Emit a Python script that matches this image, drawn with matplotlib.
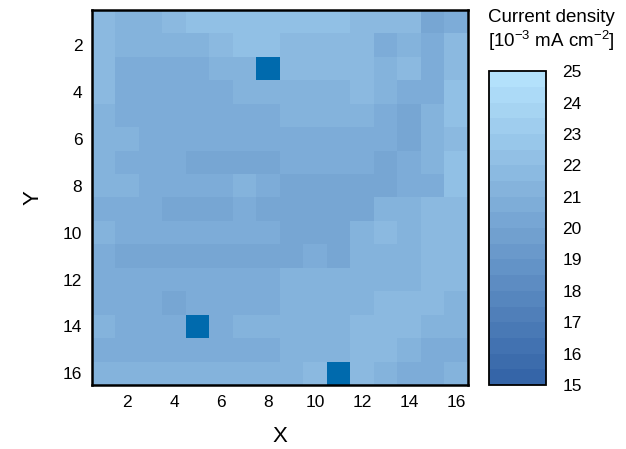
import numpy as np
import matplotlib
matplotlib.use("Agg")
import matplotlib.pyplot as plt
from matplotlib.colors import ListedColormap, BoundaryNorm, to_rgb

plt.rcParams['font.family'] = ['Liberation Sans', 'DejaVu Sans']
plt.rcParams['mathtext.default'] = 'regular'

# Current density map, rows Y = 1..16 (top to bottom), columns X = 1..16
current_density = [
    [21.7, 21.2, 21.2, 21.7, 22.2, 22.2, 22.2, 22.2, 22.2, 22.2, 22.2, 21.7, 21.7, 21.7, 20.2, 20.7],
    [21.7, 21.2, 21.2, 21.2, 21.2, 21.7, 22.2, 22.2, 21.7, 21.7, 21.7, 21.7, 20.7, 21.2, 20.7, 21.7],
    [21.7, 20.7, 20.7, 20.7, 20.7, 21.2, 21.2, 3.0, 21.7, 21.7, 21.7, 21.7, 21.2, 21.7, 20.7, 21.7],
    [21.7, 20.7, 20.7, 20.7, 20.7, 20.7, 21.2, 21.2, 21.2, 21.2, 21.2, 21.7, 21.2, 20.7, 20.7, 22.2],
    [21.2, 20.7, 20.7, 20.7, 20.7, 20.7, 20.7, 20.7, 21.2, 21.2, 21.2, 21.2, 20.7, 20.2, 21.2, 22.2],
    [21.2, 21.2, 20.7, 20.7, 20.7, 20.7, 20.7, 20.7, 20.7, 20.7, 20.7, 20.7, 20.7, 20.2, 21.2, 21.7],
    [21.2, 20.7, 20.7, 20.7, 20.2, 20.2, 20.2, 20.2, 20.7, 20.7, 20.7, 20.7, 20.2, 20.7, 21.2, 22.2],
    [21.2, 21.2, 20.7, 20.7, 20.7, 20.7, 21.2, 20.7, 20.2, 20.2, 20.2, 20.2, 20.2, 20.7, 20.7, 22.2],
    [20.7, 20.7, 20.7, 20.2, 20.2, 20.2, 20.7, 20.2, 20.2, 20.2, 20.2, 20.2, 21.2, 21.2, 21.7, 21.7],
    [21.2, 20.7, 20.7, 20.7, 20.7, 20.7, 20.7, 20.7, 20.2, 20.2, 20.2, 21.2, 21.7, 21.2, 21.7, 21.7],
    [20.7, 20.2, 20.2, 20.2, 20.2, 20.2, 20.2, 20.2, 20.2, 20.7, 20.2, 21.2, 21.2, 21.2, 21.7, 21.7],
    [20.7, 20.7, 20.7, 20.7, 20.7, 20.7, 20.7, 20.7, 21.2, 21.2, 21.2, 21.2, 21.2, 21.2, 21.7, 21.7],
    [20.7, 20.7, 20.7, 20.2, 20.7, 20.7, 20.7, 20.7, 21.2, 21.2, 21.2, 21.2, 21.7, 21.7, 21.7, 21.2],
    [21.2, 20.7, 20.7, 20.7, 3.0, 20.7, 21.2, 21.2, 21.2, 21.2, 21.2, 21.7, 21.7, 21.7, 21.2, 21.2],
    [20.7, 20.7, 20.7, 20.7, 20.7, 20.7, 20.7, 20.7, 21.2, 21.2, 21.2, 21.7, 21.7, 21.2, 20.7, 20.7],
    [21.2, 21.2, 21.2, 21.2, 21.2, 21.2, 21.2, 21.2, 21.2, 21.7, 3.0, 21.7, 21.2, 20.7, 20.7, 21.2],
]
tick_positions = [2, 4, 6, 8, 10, 12, 14, 16]
cbar_ticks = [15, 16, 17, 18, 19, 20, 21, 22, 23, 24, 25]
cbar_min, cbar_max, cbar_step = 15, 25, 0.5

# Stepped blue palette, one shade per 0.5 interval
low, high = np.array(to_rgb('#3565a8')), np.array(to_rgb('#b3e1fb'))
bounds = np.arange(cbar_min, cbar_max + cbar_step / 2, cbar_step)
n_bins = len(bounds) - 1
shades = [low + (high - low) * i / (n_bins - 1) for i in range(n_bins)]
cmap = ListedColormap(shades)
cmap.set_under('#006aad')
cmap.set_over('#b3e1fb')
norm = BoundaryNorm(bounds, cmap.N)

data = np.array(current_density)
n_rows, n_cols = data.shape

fig = plt.figure(figsize=(6.26, 4.49), dpi=100)
ax = fig.add_axes([0.147, 0.1425, 0.6006, 0.835])
ax.imshow(data, cmap=cmap, norm=norm, interpolation='nearest', aspect='auto',
          extent=[0.5, n_cols + 0.5, n_rows + 0.5, 0.5])
ax.set_xticks(tick_positions)
ax.set_yticks(tick_positions)
ax.tick_params(length=0, labelsize=12.5, pad=7)
ax.set_xlabel('X', fontsize=16, labelpad=12)
ax.set_ylabel('Y', fontsize=16, labelpad=14)
for s in ax.spines.values():
    s.set_linewidth(1.8)

cax = fig.add_axes([0.781, 0.1425, 0.091, 0.699])
cb = fig.colorbar(plt.cm.ScalarMappable(norm=norm, cmap=cmap), cax=cax,
                  ticks=cbar_ticks, boundaries=bounds)
cb.minorticks_off()
cb.outline.set_linewidth(1.3)
cax.tick_params(length=0, labelsize=12.5, pad=12)
fig.text(0.7796, 0.96, 'Current density', ha='left', va='center', fontsize=13.5)
fig.text(0.7796, 0.908, '[10$^{-3}$ mA cm$^{-2}$]', ha='left', va='center', fontsize=13.5)

fig.savefig('out.png', dpi=100)
